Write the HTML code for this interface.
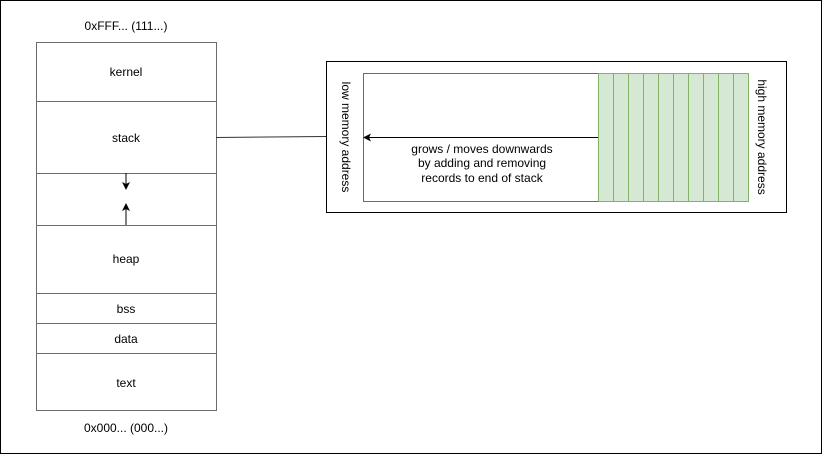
<!DOCTYPE html>
<html><head><meta charset="utf-8"><style>
html,body{margin:0;padding:0;background:#fff;}
svg{display:block;}
text{font-family:"Liberation Sans",Arial,sans-serif;font-size:12px;fill:#000;}
</style></head><body>
<svg width="822" height="454" viewBox="0 0 822 454" xmlns="http://www.w3.org/2000/svg">
<defs>
<marker id="ah" markerWidth="8" markerHeight="8" refX="7" refY="4" orient="auto" markerUnits="userSpaceOnUse">
<path d="M0,0 L8,4 L0,8 L2,4 Z" fill="#000"/>
</marker>
</defs>
<rect x="0.5" y="0.5" width="821" height="453" fill="#fff" stroke="#000"/>
<text x="126" y="30" text-anchor="middle">0xFFF... (111...)</text>
<text x="126" y="432" text-anchor="middle">0x000... (000...)</text>
<g fill="#fff" stroke="#6b6b6b" stroke-width="1">
<rect x="36.5" y="42.5" width="180" height="59"/>
<rect x="36.5" y="101.5" width="180" height="72"/>
<rect x="36.5" y="173.5" width="180" height="52"/>
<rect x="36.5" y="225.5" width="180" height="68"/>
<rect x="36.5" y="293.5" width="180" height="30"/>
<rect x="36.5" y="323.5" width="180" height="30"/>
<rect x="36.5" y="353.5" width="180" height="57"/>
</g>
<text x="126" y="76" text-anchor="middle">kernel</text>
<text x="126" y="142" text-anchor="middle">stack</text>
<text x="126" y="263" text-anchor="middle">heap</text>
<text x="126" y="313" text-anchor="middle">bss</text>
<text x="126" y="343" text-anchor="middle">data</text>
<text x="126" y="387" text-anchor="middle">text</text>
<line x1="126" y1="173" x2="126" y2="189" stroke="#000" marker-end="url(#ah)"/>
<line x1="126" y1="225" x2="126" y2="204" stroke="#000" marker-end="url(#ah)"/>
<line x1="216" y1="137.5" x2="326" y2="136.5" stroke="#333"/>
<rect x="326.5" y="61.5" width="460" height="151" fill="#fff" stroke="#000"/>
<rect x="363.5" y="73.5" width="235" height="128" fill="#fff" stroke="#6b6b6b"/>
<g fill="#d5e8d4" stroke="#82b366">
<rect x="598.5" y="73.5" width="15" height="128"/>
<rect x="613.5" y="73.5" width="15" height="128"/>
<rect x="628.5" y="73.5" width="15" height="128"/>
<rect x="643.5" y="73.5" width="15" height="128"/>
<rect x="658.5" y="73.5" width="15" height="128"/>
<rect x="673.5" y="73.5" width="15" height="128"/>
<rect x="688.5" y="73.5" width="15" height="128"/>
<rect x="703.5" y="73.5" width="15" height="128"/>
<rect x="718.5" y="73.5" width="15" height="128"/>
<rect x="733.5" y="73.5" width="15" height="128"/>
</g>
<line x1="598" y1="137.5" x2="364" y2="137.5" stroke="#000" marker-end="url(#ah)"/>
<text x="482" y="153" text-anchor="middle">grows / moves downwards</text>
<text x="482" y="167" text-anchor="middle">by adding and removing</text>
<text x="482" y="182" text-anchor="middle">records to end of stack</text>
<text transform="translate(342,137) rotate(90)" text-anchor="middle">low memory address</text>
<text transform="translate(758,137) rotate(90)" text-anchor="middle">high memory address</text>
</svg>
</body></html>
